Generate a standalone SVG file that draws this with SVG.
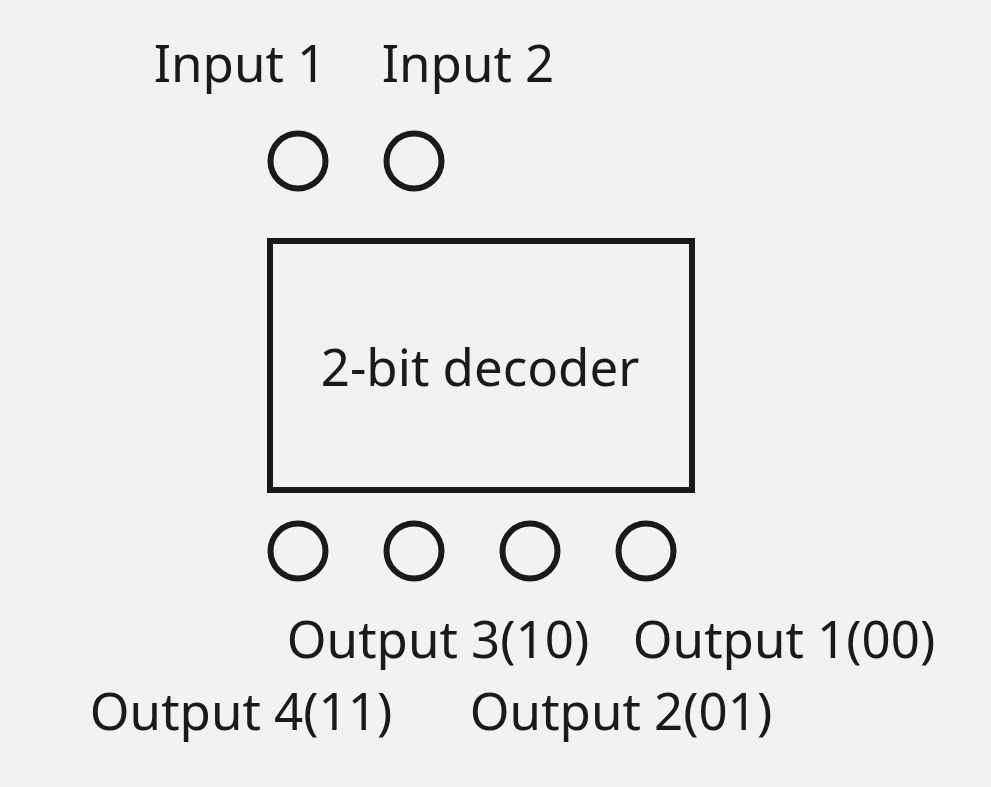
<svg xmlns="http://www.w3.org/2000/svg" width="991" height="787" viewBox="0 0 991 787">
<style>
text{font-family:"Noto Sans","Open Sans",sans-serif;font-size:51px;fill:#1a1a1a}
.pin{fill:none;stroke:#1a1a1a;stroke-width:6}
.box{fill:none;stroke:#1a1a1a;stroke-width:6}
</style>
<rect width="991" height="787" fill="#f2f2f2"/>
<g id="in1"><circle class="pin" cx="298" cy="161" r="27.5"/><text x="240" y="82" text-anchor="middle">Input 1</text></g>
<g id="in2"><circle class="pin" cx="414" cy="161" r="27.5"/><text x="468" y="82" text-anchor="middle">Input 2</text></g>
<g id="decoder"><rect class="box" x="270" y="241" width="422" height="249"/><text x="480" y="386" text-anchor="middle">2-bit decoder</text></g>
<g id="out4"><circle class="pin" cx="298" cy="551" r="27.5"/><text x="241" y="730" text-anchor="middle">Output 4(11)</text></g>
<g id="out3"><circle class="pin" cx="414" cy="551" r="27.5"/><text x="438" y="658" text-anchor="middle">Output 3(10)</text></g>
<g id="out2"><circle class="pin" cx="530" cy="551" r="27.5"/><text x="621" y="730" text-anchor="middle">Output 2(01)</text></g>
<g id="out1"><circle class="pin" cx="646" cy="551" r="27.5"/><text x="784" y="658" text-anchor="middle">Output 1(00)</text></g>
<g id="connectors"></g>
</svg>
